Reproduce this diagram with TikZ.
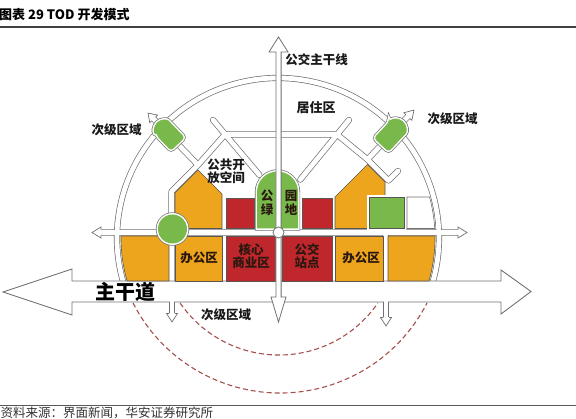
\documentclass[tikz,border=0pt]{standalone}
\usepackage{fontspec}
\newfontfamily\cjk{Noto Sans CJK SC}
\newcommand\myfs[2]{\fontsize{#1}{#2}\selectfont}
\definecolor{orng}{HTML}{EEA51E}
\definecolor{redb}{HTML}{C0272D}
\definecolor{grn}{HTML}{79B84A}
\definecolor{roadgray}{HTML}{707070}
\definecolor{outl}{HTML}{5A5550}
\definecolor{txtd}{HTML}{2A1810}
\definecolor{dashc}{HTML}{A5504E}
\newcommand\myhead[4]{%
  \begin{scope}[shift={#1},rotate=#2]
    \filldraw[fill=white,draw=roadgray,line width=0.7pt,line join=miter]
      (-#3,-2.75) -- (-#3,-#4) -- (0,0) -- (-#3,#4) -- (-#3,2.75);
  \end{scope}}
\def\roadpaths{%
  (122.92,281) arc[start angle=164.41, end angle=375.59, x radius=161, y radius=160]
  (102,232.5) -- (458,232.5)
  (225,134.5) -- (337,134.5)
  (213,120) -- (259.4,175)
  (349,120) -- (300.3,179.6)
  (225,134.5) -- (198,165)
  (337,134.5) -- (367.5,159.5)
  (198,165) -- (171.5,191.55) -- (171.5,281)
  (367.5,159.5) -- (388.5,180.5) -- (398,171)
  (385.5,232.5) -- (385.5,281)
  (198,165) -- (153.6,118.9)
  (367.5,159.5) -- (407.9,116.5)}
\begin{document}
\begin{tikzpicture}[x=1pt,y=-1pt,
  every node/.style={font=\cjk, inner sep=0pt},
  blk/.style={fill=#1, draw=outl, line width=0.6pt},
  ringed/.style={preaction={draw=roadgray, line width=4.4pt},
                 preaction={draw=white, line width=3pt}, fill=#1},
  lbl/.style={font=\cjk\bfseries\myfs{12.5}{13}, text=black!90, align=center},
  blbl/.style={font=\cjk\bfseries\myfs{12.5}{13}, text=txtd, align=center},
  dsh/.style={draw=dashc, line width=1.1pt, dash pattern=on 5pt off 3pt}]
\useasboundingbox (0,0) rectangle (576,419);
% title and rules
\node[anchor=west, font=\cjk\bfseries\myfs{13}{13}] (title) at (-1,14.5) {图表 29 TOD 开发模式};
\draw[black!75, line width=1.6pt] (0,27) -- (576,27);
\draw[black!65, line width=1.3pt] (0,405.5) -- (576,405.5);
\node[anchor=west, font=\cjk\myfs{12.5}{12.5}, text=black!80] (src) at (0.5,412.5) {资料来源：界面新闻，华安证券研究所};
% dashed walking circles
\draw[dsh] (133,302.9) arc[start angle=153, end angle=27, radius=165];
\draw[dsh] (180.1,303) arc[start angle=145.5, end angle=34.5, radius=120];
% road network (casing)
\draw[roadgray, line width=6.2pt, line cap=round, line join=round] \roadpaths;
\draw[white, line width=4.8pt, line cap=round, line join=round] \roadpaths;
% main road
\filldraw[fill=white, draw=roadgray, line width=0.9pt, line join=miter]
  (3,292) -- (72,269) -- (72,281) -- (501,281) -- (501,270) -- (531,291.5)
  -- (501,314) -- (501,302) -- (72,302) -- (72,315) -- cycle;
% small branch shafts below main road
\draw[roadgray, line width=6.2pt] (172,302) -- (172,313.5) (386,302) -- (386,317.5);
\draw[white, line width=4.8pt] (172,301) -- (172,313.5) (386,301) -- (386,317.5);
% arrow heads of small roads
\myhead{(92,232.5)}{180}{9}{5.5}
\myhead{(467,232.5)}{0}{9}{5.5}
\myhead{(172,322)}{-90}{8.5}{5.5}
\myhead{(386,326)}{-90}{8.5}{5.5}
\myhead{(148.1,113.1)}{133.9}{8}{5.5}
\myhead{(414,110)}{46.8}{9}{5.5}
% top row blocks
\path[blk=orng] (175,228.5) -- (175,193) -- (198,170) -- (222,194) -- (222,228.5) -- cycle;
\path[blk=redb] (226,198) rectangle (254,228.5);
\path[ringed=grn] (257,228.5) -- (257,192) arc[start angle=180, end angle=360, radius=20.5] -- (298,228.5) -- cycle;
\path[blk=redb] (302,198) rectangle (332,228.5);
\path[blk=orng] (335,228.5) -- (335,197) -- (367.5,164.5) -- (385,182) -- (385,228.5) -- cycle;
\path[blk=grn, preaction={draw=white, line width=4pt}] (369,197) rectangle (404,228.5);
\path[fill=white, draw=roadgray, line width=0.6pt] (407,197) -- (429.5,197)
  arc[start angle=-15.24, end angle=-3.49, x radius=157, y radius=156] -- (407,228.5) -- cycle;
% bottom row blocks
\path[blk=orng] (169,236) -- (121.0,236) arc[start angle=180.73, end angle=164.0, x radius=157, y radius=156] -- (169,281) -- cycle;
\path[blk=orng] (175,236) rectangle (222,281);
\path[blk=redb] (226,236) rectangle (275,281);
\path[blk=redb] (282,236) rectangle (332,281);
\path[blk=orng] (335,236) rectangle (383,281);
\path[blk=orng] (388,236) -- (435.0,236) arc[start angle=-0.73, end angle=16.0, x radius=157, y radius=156] -- (388,281) -- cycle;
% green nodes
\path[ringed=grn] (172.5,229) circle[radius=14.5];
\begin{scope}[shift={(167.5,133.3)}, rotate=133.9]
  \path[ringed=grn, rounded corners=3pt] (5.5,-9.5) -- (-15,-9.5) -- (-15,9.5) -- (5.5,9.5)
    arc[start angle=90, end angle=-90, radius=9.5] -- cycle;
\end{scope}
\begin{scope}[shift={(392.2,133.3)}, rotate=46.8]
  \path[ringed=grn, rounded corners=3pt] (6,-10) -- (-16,-10) -- (-16,10) -- (6,10)
    arc[start angle=90, end angle=-90, radius=10] -- cycle;
\end{scope}
% vertical trunk (public transport line)
\filldraw[fill=white, draw=roadgray, line width=0.8pt, line join=miter]
  (278.5,37) -- (288,52) -- (281.1,52) -- (281.1,297) -- (286,297) -- (278.5,322)
  -- (271,297) -- (275.9,297) -- (275.9,52) -- (269,52) -- cycle;
\filldraw[fill=white, draw=roadgray, line width=0.8pt] (278.5,232.5) circle[radius=5.5];
% labels
\node[lbl] (lbus) at (316.5,60) {公交主干线};
\node[lbl, font=\cjk\bfseries\myfs{13}{13}] (lres) at (316,108) {居住区};
\node[lbl] (lsecL) at (116.5,130) {次级区域};
\node[lbl] (lsecR) at (452.5,119) {次级区域};
\node[lbl] (lsecB) at (226,315) {次级区域};
\node[lbl] (lopen) at (226,171.5) {公共开\\放空间};
\node[blbl] (p1) at (267,196) {公};
\node[blbl] (p2) at (291,196) {园};
\node[blbl] (p3) at (267,210) {绿};
\node[blbl] (p4) at (291,210) {地};
\node[blbl] (off1) at (199,257.5) {办公区};
\node[blbl] (core) at (251,256.5) {核心\\商业区};
\node[blbl] (stop) at (307,256.5) {公交\\站点};
\node[blbl] (off2) at (361,258) {办公区};
\node[font=\cjk\bfseries\myfs{20}{20}, text=black] (lmain) at (125.5,292) {主干道};
\end{tikzpicture}
\end{document}
